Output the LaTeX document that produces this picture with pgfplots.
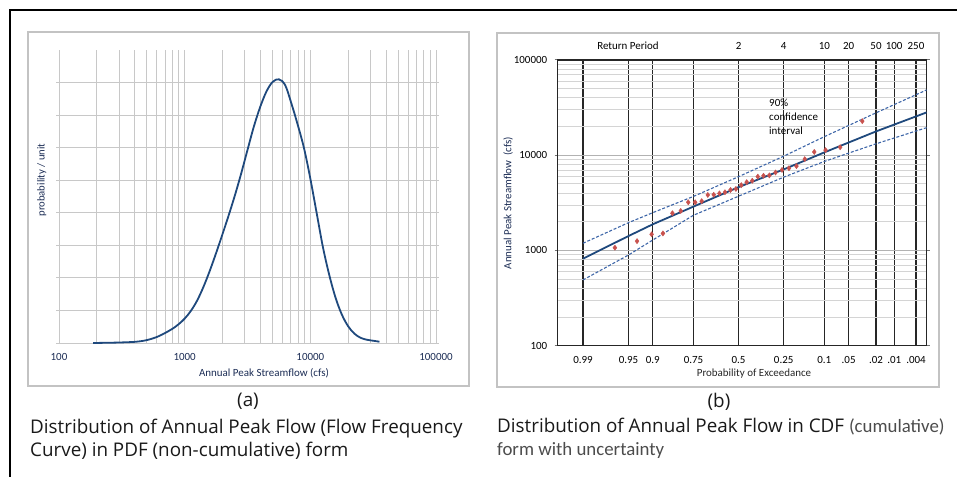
\documentclass[border=0pt]{standalone}
\usepackage{pgfplots}
\pgfplotsset{compat=1.18}
\usepackage{fontspec}
\setmainfont{Carlito}
\newfontfamily\capfont{Open Sans}
\definecolor{navy}{RGB}{31,73,125}
\definecolor{dashblue}{RGB}{62,102,168}
\definecolor{ptred}{RGB}{200,82,78}
\definecolor{gridgray}{RGB}{200,200,200}
\definecolor{labnavy}{RGB}{28,45,85}
\definecolor{boxgray}{RGB}{195,195,195}
\begin{document}
\begin{tikzpicture}
\useasboundingbox (0,0) rectangle (957bp,-477bp);
\draw[line width=1.3bp] (10bp,-477bp) -- (10bp,-10bp) -- (957bp,-10bp);
\draw[boxgray, line width=1.2bp] (28bp,-32bp) rectangle (469bp,-386bp);
\draw[boxgray, line width=1.2bp] (497bp,-33bp) rectangle (939bp,-387bp);

% ---------------- panel (a) ----------------
\begin{axis}[
  at={(59bp,-343bp)}, anchor=south west,
  width=377bp, height=293bp, scale only axis,
  xmode=log, xmin=100, xmax=100000, ymin=0, ymax=9,
  axis line style={draw=none},
  xtick={100,1000,10000,100000},
  xticklabels={100,1000,10000,100000},
  minor xtick={200,300,400,500,600,700,800,900,2000,3000,4000,5000,6000,7000,8000,9000,20000,30000,40000,50000,60000,70000,80000,90000},
  ytick={0,1,2,3,4,5,6,7,8}, yticklabels={},
  xmajorgrids, xminorgrids, ymajorgrids,
  major grid style={gridgray, line width=0.9bp},
  minor grid style={gridgray, line width=0.9bp},
  tick align=outside, major tick length=3bp, minor tick length=0pt,
  x tick style={draw=none},
  y tick style={gridgray, line width=0.9bp},
  xticklabel style={font=\fontsize{11}{13}\selectfont, text=labnavy, yshift=-3.5bp},
]
\addplot[navy, line width=1.8bp, smooth, tension=0.55] coordinates {
(187,0.000) (200,0.002) (224,0.005) (251,0.008) (282,0.012) (316,0.018)
(355,0.025) (398,0.035) (447,0.055) (501,0.090) (562,0.145) (631,0.220)
(708,0.320) (794,0.430) (891,0.570) (1000,0.750) (1122,0.990) (1259,1.310)
(1413,1.730) (1585,2.220) (1778,2.760) (1995,3.330) (2239,3.920) (2512,4.540)
(2818,5.210) (3162,5.930) (3548,6.640) (3981,7.240) (4467,7.720) (5012,8.020)
(5623,8.100) (6310,7.920) (7079,7.350) (7943,6.700) (8913,5.980) (10000,5.050)
(11220,4.000) (12589,2.950) (14125,2.100) (15849,1.400) (17783,0.880)
(19953,0.520) (22387,0.290) (25119,0.160) (28184,0.100) (31623,0.070) (35481,0.040)
};
\end{axis}
\node[font=\fontsize{11}{13}\selectfont, text=labnavy] at (264bp,-373bp) {Annual Peak Streamflow (cfs)};
\node[font=\fontsize{10.7}{13}\selectfont, text=labnavy, rotate=90] at (41.7bp,-180bp) {probability / unit};

% ---------------- panel (b) ----------------
\begin{axis}[
  at={(557.7bp,-345.7bp)}, anchor=south west,
  width=368.8bp, height=285.7bp, scale only axis,
  xmin=-2.704, xmax=2.809, ymode=log, ymin=100, ymax=100000,
  xtick={-2.326,-1.645,-1.282,-0.674,0,0.674,1.282,1.645,2.054,2.326,2.652},
  xticklabels={0.99,0.95,0.9,0.75,0.5,0.25,0.1,.05,.02,.01,.004},
  ytick={100,1000,10000,100000},
  yticklabels={100,1000,10000,100000},
  minor ytick={200,300,400,500,600,700,800,900,2000,3000,4000,5000,6000,7000,8000,9000,20000,30000,40000,50000,60000,70000,80000,90000},
  xmajorgrids, ymajorgrids, yminorgrids,
  x grid style={black!85, line width=1.2bp},
  y grid style={black!30, line width=1.4bp},
  minor y grid style={black!17, line width=0.9bp},
  axis line style={black!85, line width=1.1bp},
  tick align=outside, major tick length=3bp, minor tick length=0pt,
  x tick style={draw=none},
  y tick style={black!55, line width=1bp},
  xticklabel style={font=\fontsize{11}{13}\selectfont, yshift=-4.5bp},
  yticklabel style={font=\fontsize{11}{13}\selectfont, xshift=-4bp},
]
\addplot[dashblue, line width=1.1bp, dash pattern=on 3bp off 1.8bp] coordinates {
(-2.326,1191) (-1.645,1959) (-1.282,2495) (-0.674,3698) (0,5957) (0.674,9772)
(1.282,15668) (2.054,27861) (2.812,48529)
};
\addplot[dashblue, line width=1.1bp, dash pattern=on 3bp off 1.8bp] coordinates {
(-2.326,490) (-1.645,897) (-1.282,1288) (-0.674,2344) (0,3715) (0.674,5888)
(1.282,8610) (2.054,13183) (2.812,19498)
};
\addplot[navy, line width=1.8bp] coordinates {
(-2.326,820) (-1.645,1419) (-1.282,1884) (-0.674,2891) (0,4624) (0.674,7096)
(1.282,10715) (2.054,17783) (2.812,28184)
};
\addplot[only marks, mark=diamond*, mark size=2.6bp, color=ptred] coordinates {
(-1.849,1069) (-1.518,1253) (-1.300,1479) (-1.131,1510) (-0.989,2460)
(-0.865,2600) (-0.753,3207) (-0.649,3207) (-0.552,3296) (-0.460,3828)
(-0.372,3846) (-0.287,3972) (-0.204,4083) (-0.121,4322) (-0.040,4426)
(0.040,4853) (0.121,5215) (0.204,5396) (0.287,5958) (0.372,6092)
(0.460,6140) (0.552,6593) (0.649,7011) (0.753,7300) (0.865,7688)
(0.989,9100) (1.131,10830) (1.300,11320) (1.518,12140) (1.849,22800)
};
\end{axis}
% return period labels on top
\begin{axis}[
  at={(557.7bp,-345.7bp)}, anchor=south west,
  width=368.8bp, height=285.7bp, scale only axis,
  xmin=-2.704, xmax=2.809, ymin=0, ymax=1,
  axis line style={draw=none}, ytick=\empty,
  xticklabel pos=upper,
  xtick={0,0.674,1.282,1.645,2.054,2.326,2.652},
  xticklabels={2,4,10,20,50,100,250},
  major tick length=0pt, x tick style={draw=none},
  xticklabel style={font=\fontsize{11}{13}\selectfont, yshift=6.5bp},
]
\end{axis}
\node[font=\fontsize{11}{13}\selectfont] at (628bp,-45.7bp) {Return Period};
\node[font=\fontsize{11}{13}\selectfont, text=labnavy, rotate=90] at (508bp,-203bp) {Annual Peak Streamflow\ \ (cfs)};
\node[font=\fontsize{11}{13}\selectfont, text=black!85] at (754bp,-374bp) {Probability of Exceedance};
\node[font=\fontsize{11}{14}\selectfont, align=left, anchor=north west, inner sep=0pt] at (769bp,-99bp) {90\%\\confidence\\interval};

% ---------------- captions ----------------
\begin{scope}[every node/.style={inner sep=0pt, text=black!90, font=\capfont\fontsize{18.9}{22}\selectfont}]
\node[anchor=base] at (248bp,-406bp) {(a)};
\node[anchor=base west] at (30bp,-433bp) {Distribution of Annual Peak Flow (Flow Frequency};
\node[anchor=base west] at (30bp,-456.7bp) {Curve) in PDF (non-cumulative) form};
\node[anchor=base] at (719bp,-407bp) {(b)};
\node[anchor=base west] at (497bp,-432.3bp) {Distribution of Annual Peak Flow in CDF {\rmfamily\fontsize{18.9}{22}\selectfont\color{black!70}(cumulative)}};
\node[anchor=base west, text=black!70, font=\rmfamily\fontsize{18.9}{22}\selectfont] at (497bp,-455.7bp) {form with uncertainty};
\end{scope}
\end{tikzpicture}
\end{document}
